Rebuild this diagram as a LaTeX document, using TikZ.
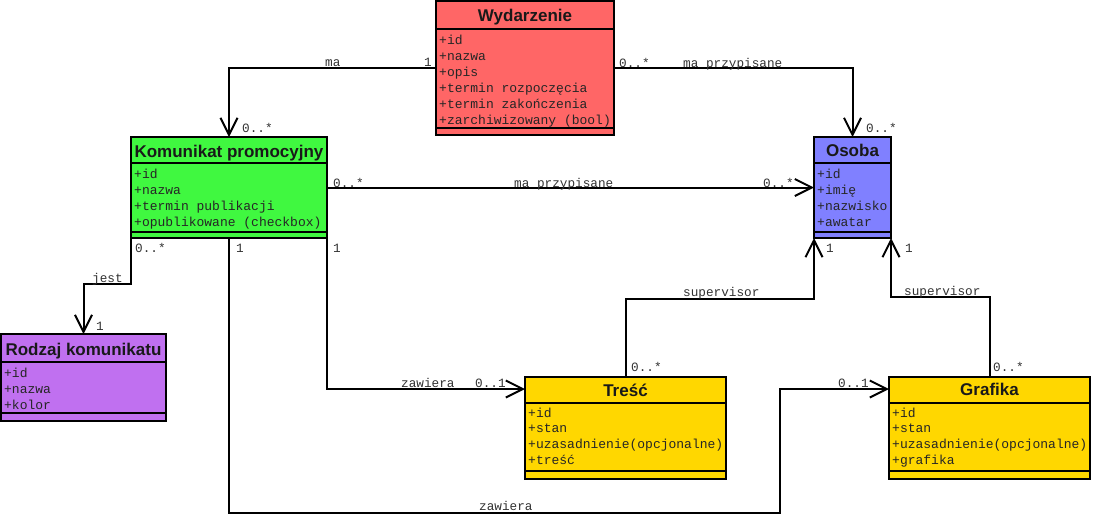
\documentclass[tikz,border=0pt]{standalone}
\usepackage{fontspec}
\setmainfont{Liberation Sans}
\newfontfamily\monof{Liberation Mono}
\usetikzlibrary{arrows.meta,calc}
\definecolor{cwyd}{RGB}{255,102,102}
\definecolor{ckom}{RGB}{64,248,64}
\definecolor{coso}{RGB}{128,128,255}
\definecolor{crod}{RGB}{192,112,240}
\definecolor{cgold}{RGB}{255,215,0}
\definecolor{lbl}{RGB}{50,50,50}
\begin{document}
\begin{tikzpicture}[x=1pt,y=-1pt,
 classbox/.style={draw=black, line width=2pt, inner sep=0pt, outer sep=0pt, anchor=north west},
 titletext/.style={font=\fontsize{17}{17}\selectfont\bfseries, inner sep=0pt, anchor=base, text=black!90},
 attr/.style={font=\monof\fontsize{13}{13}\selectfont, inner sep=0pt, anchor=base west, text=black!85},
 lab/.style={font=\monof\fontsize{12.7}{12.7}\selectfont, inner sep=0pt, anchor=base west, text=lbl},
 sepline/.style={line width=2pt},
 conn/.style={line width=2pt, -{Straight Barb[length=17pt,width=17pt]}}]
\useasboundingbox (0,0) rectangle (1093,515);

% ---------- classes ----------
% Wydarzenie
\node[classbox, fill=cwyd, minimum width=178pt, minimum height=134pt] (wyd) at (436,1) {};
\draw[sepline] ($(wyd.north west)+(0,28)$) -- ($(wyd.north east)+(0,28)$);
\draw[sepline] ($(wyd.north west)+(0,127)$) -- ($(wyd.north east)+(0,127)$);
\node[titletext] (wyd-t) at (525,21) {Wydarzenie};
\foreach \t [count=\i] in {+id,+nazwa,+opis,+termin rozpoczęcia,+termin zakończenia,+zarchiwizowany (bool)}
  \node[attr] (wyd-a\i) at (439,{44+16*(\i-1)}) {\t};

% Komunikat promocyjny
\node[classbox, fill=ckom, minimum width=196pt, minimum height=101pt] (kom) at (131,137) {};
\draw[sepline] ($(kom.north west)+(0,26)$) -- ($(kom.north east)+(0,26)$);
\draw[sepline] ($(kom.north west)+(0,95)$) -- ($(kom.north east)+(0,95)$);
\node[titletext] (kom-t) at (229,157) {Komunikat promocyjny};
\foreach \t [count=\i] in {+id,+nazwa,+termin publikacji,+opublikowane (checkbox)}
  \node[attr] (kom-a\i) at (134,{178+16*(\i-1)}) {\t};

% Osoba
\node[classbox, fill=coso, minimum width=77pt, minimum height=101pt] (oso) at (814,137) {};
\draw[sepline] ($(oso.north west)+(0,26)$) -- ($(oso.north east)+(0,26)$);
\draw[sepline] ($(oso.north west)+(0,95)$) -- ($(oso.north east)+(0,95)$);
\node[titletext] (oso-t) at (852.5,156) {Osoba};
\foreach \t [count=\i] in {+id,+imię,+nazwisko,+awatar}
  \node[attr] (oso-a\i) at (817,{178+16*(\i-1)}) {\t};

% Rodzaj komunikatu
\node[classbox, fill=crod, minimum width=165pt, minimum height=87pt] (rod) at (1,334) {};
\draw[sepline] ($(rod.north west)+(0,28)$) -- ($(rod.north east)+(0,28)$);
\draw[sepline] ($(rod.north west)+(0,79)$) -- ($(rod.north east)+(0,79)$);
\node[titletext] (rod-t) at (83.5,355) {Rodzaj komunikatu};
\foreach \t [count=\i] in {+id,+nazwa,+kolor}
  \node[attr] (rod-a\i) at (4,{377+16*(\i-1)}) {\t};

% Treść
\node[classbox, fill=cgold, minimum width=201pt, minimum height=102pt] (tre) at (525,377) {};
\draw[sepline] ($(tre.north west)+(0,26)$) -- ($(tre.north east)+(0,26)$);
\draw[sepline] ($(tre.north west)+(0,94)$) -- ($(tre.north east)+(0,94)$);
\node[titletext] (tre-t) at (625.5,396) {Treść};
\foreach \t [count=\i] in {+id,+stan,+uzasadnienie(opcjonalne),+treść}
  \node[attr] (tre-a\i) at (528,{417+15.7*(\i-1)}) {\t};

% Grafika
\node[classbox, fill=cgold, minimum width=201pt, minimum height=102pt] (gra) at (889,377) {};
\draw[sepline] ($(gra.north west)+(0,26)$) -- ($(gra.north east)+(0,26)$);
\draw[sepline] ($(gra.north west)+(0,94)$) -- ($(gra.north east)+(0,94)$);
\node[titletext] (gra-t) at (989.5,395) {Grafika};
\foreach \t [count=\i] in {+id,+stan,+uzasadnienie(opcjonalne),+grafika}
  \node[attr] (gra-a\i) at (892,{417+15.7*(\i-1)}) {\t};

% ---------- connectors ----------
\draw[conn] (wyd.west) -| (kom.north);
\draw[conn] (wyd.east) -| (oso.north);
\draw[conn] (kom.east) -- (oso.west);
\draw[conn] (kom.south west) -- ++(0,46) -| (rod.north);
\draw[conn] (kom.south east) |- ($(tre.north west)+(0,12)$);
\coordinate (kg) at (780,513);
\draw[conn] (kom.south) |- (kg) |- ($(gra.north west)+(0,12)$);
\draw[conn] (tre.north) -- ++(0,-78) -| (oso.south west);
\draw[conn] (gra.north) -- ++(0,-80) -| (oso.south east);

% ---------- labels ----------
\node[lab] (l1) at (325,66) {ma};
\node[lab] (l2) at (424,66) {1};
\node[lab] (l3) at (242,132) {0..*};
\node[lab] (l4) at (619,67) {0..*};
\node[lab] (l5) at (683,67) {ma przypisane};
\node[lab] (l6) at (866,132) {0..*};
\node[lab] (l7) at (333,187) {0..*};
\node[lab] (l8) at (514,187) {ma przypisane};
\node[lab] (l9) at (763,187) {0..*};
\node[lab] (l10) at (135,252) {0..*};
\node[lab] (l11) at (92,282) {jest};
\node[lab] (l12) at (96,330) {1};
\node[lab] (l13) at (236,252) {1};
\node[lab] (l14) at (333,252) {1};
\node[lab] (l15) at (401,387) {zawiera};
\node[lab] (l16) at (475,387) {0..1};
\node[lab] (l17) at (838,387) {0..1};
\node[lab] (l18) at (479,510) {zawiera};
\node[lab] (l19) at (683,296) {supervisor};
\node[lab] (l20) at (904,295) {supervisor};
\node[lab] (l21) at (631,371) {0..*};
\node[lab] (l22) at (993,371) {0..*};
\node[lab] (l23) at (826,252) {1};
\node[lab] (l24) at (905,252) {1};
\end{tikzpicture}
\end{document}
